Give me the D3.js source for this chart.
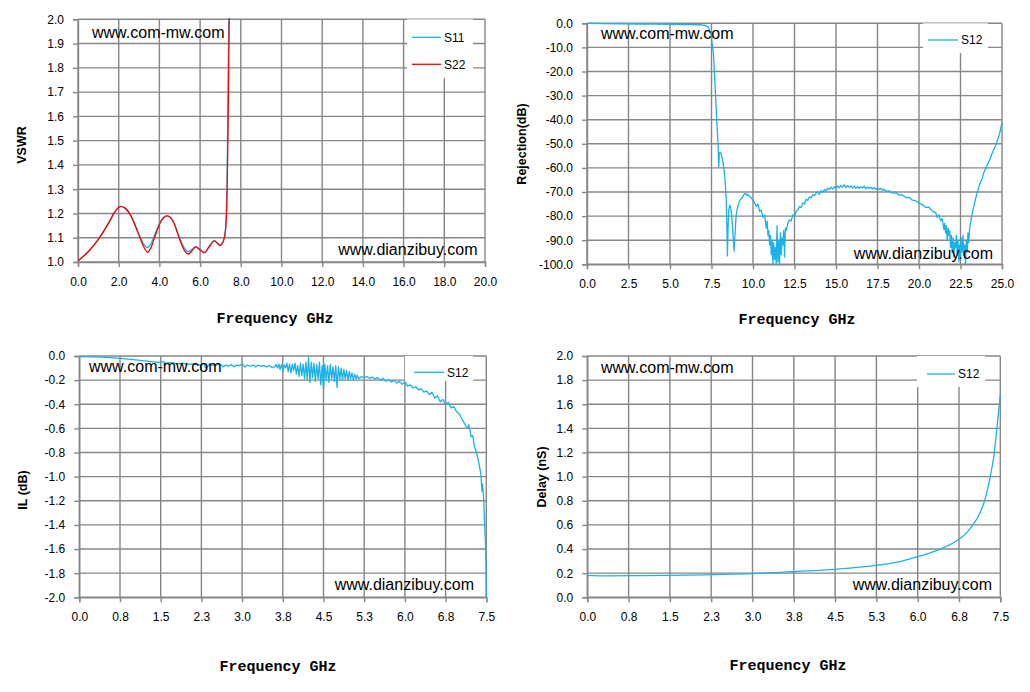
<!DOCTYPE html>
<html><head><meta charset="utf-8">
<script src="https://cdn.jsdelivr.net/npm/d3@7"></script>
<style>
body{margin:0;background:#fff}
svg{display:block}
</style></head><body>
<svg id="c" width="1030" height="692"></svg>
<script>
// ---------------- DATA ----------------
// Panel 1: VSWR
const vswrXTicks = [0,2,4,6,8,10,12,14,16,18,20];
const vswrXLabels = ["0.0","2.0","4.0","6.0","8.0","10.0","12.0","14.0","16.0","18.0","20.0"];
const vswrYTicks = [1.0,1.1,1.2,1.3,1.4,1.5,1.6,1.7,1.8,1.9,2.0];
const vswrYLabels = ["1.0","1.1","1.2","1.3","1.4","1.5","1.6","1.7","1.8","1.9","2.0"];
const s11Freq = [0,0.5,1.0,1.5,1.8,2.1,2.3,2.6,2.95,3.2,3.42,3.6,3.8,4.1,4.39,4.7,5.0,5.25,5.42,5.6,5.78,6.0,6.21,6.45,6.7,6.98,7.15,7.25,7.32,7.36,7.41,7.45];
const s11Vswr = [1.005,1.042,1.093,1.16,1.205,1.228,1.222,1.19,1.125,1.078,1.06,1.078,1.12,1.173,1.19,1.165,1.098,1.055,1.042,1.052,1.063,1.052,1.04,1.065,1.088,1.07,1.09,1.14,1.3,1.6,2.0,2.4];
const s22Freq = [0,0.5,1.0,1.5,1.8,2.1,2.3,2.6,2.95,3.2,3.42,3.6,3.8,4.1,4.39,4.7,5.0,5.25,5.42,5.6,5.78,6.0,6.21,6.45,6.7,6.98,7.15,7.25,7.33,7.38,7.43,7.47];
const s22Vswr = [1.005,1.042,1.093,1.16,1.205,1.229,1.223,1.19,1.12,1.068,1.04,1.062,1.11,1.17,1.19,1.163,1.092,1.045,1.033,1.046,1.062,1.05,1.038,1.063,1.087,1.068,1.088,1.13,1.3,1.6,2.0,2.4];

// Panel 2: Rejection
const rejXTicks = [0,2.5,5,7.5,10,12.5,15,17.5,20,22.5,25];
const rejXLabels = ["0.0","2.5","5.0","7.5","10.0","12.5","15.0","17.5","20.0","22.5","25.0"];
const rejYTicks = [0,-10,-20,-30,-40,-50,-60,-70,-80,-90,-100];
const rejYLabels = ["0.0","-10.0","-20.0","-30.0","-40.0","-50.0","-60.0","-70.0","-80.0","-90.0","-100.0"];
const rejFreq = [0,1,2,3,4,5,6,6.8,7.1,7.3,7.45,7.55,7.62,7.7,7.8,7.9,7.94,7.97,8.03,8.1,8.2,8.3,8.38,8.43,8.46,8.5,8.55,8.6,8.66,8.72,8.78,8.86,8.92,8.98,9.05,9.15,9.25,9.35,9.45,9.55,9.62,9.7,9.8,9.9,10.0,10.1,10.2,10.3,10.4,10.5,10.6,10.7,10.8,10.85,10.9,10.95,11.0,11.05,11.1,11.15,11.2,11.25,11.3,11.35,11.4,11.45,11.5,11.55,11.6,11.65,11.7,11.75,11.8,11.85,11.9,11.95,12.0,12.1,12.2,12.3,12.4,12.5,12.6,12.7,12.8,12.9,13.0,13.1,13.2,13.3,13.4,13.5,13.6,13.7,13.8,13.9,14.0,14.1,14.2,14.3,14.4,14.5,14.6,14.7,14.8,14.9,15.0,15.1,15.2,15.3,15.4,15.5,15.6,15.7,15.8,15.9,16.0,16.1,16.2,16.3,16.4,16.5,16.6,16.7,16.8,16.9,17.0,17.1,17.2,17.3,17.4,17.5,17.6,17.7,17.8,17.9,18.0,18.2,18.4,18.6,18.8,19.0,19.2,19.4,19.6,19.8,20.0,20.2,20.4,20.6,20.8,21.0,21.1,21.2,21.3,21.4,21.5,21.55,21.6,21.65,21.7,21.75,21.8,21.85,21.9,21.95,22.0,22.05,22.1,22.15,22.2,22.25,22.3,22.35,22.4,22.45,22.5,22.55,22.6,22.65,22.7,22.75,22.8,22.85,22.9,22.95,23.0,23.05,23.1,23.2,23.3,23.4,23.5,23.6,23.7,23.8,23.9,24.0,24.1,24.2,24.3,24.4,24.5,24.6,24.7,24.8,24.9,25.0];
const rejDb = [0,-0.1,-0.2,-0.3,-0.3,-0.4,-0.5,-0.6,-0.9,-1.5,-4,-9,-13,-24,-38,-51,-59.5,-54,-53.5,-54.5,-58,-63.5,-72,-85,-96.5,-84,-77,-75.5,-76.5,-80,-86,-94.5,-87,-80,-77,-74.5,-73,-72.5,-71,-70.5,-71.5,-71,-72,-72.5,-73.5,-74.5,-76,-75,-78,-77.5,-80.5,-79.5,-85,-82,-88,-86,-92,-88,-96,-90,-100,-91,-98,-93,-100,-84,-99,-90,-100,-87,-96,-89,-92,-86,-97,-85,-86,-83,-81.5,-82,-79.5,-80,-78,-77.5,-76,-76.5,-74.5,-75,-73,-73.5,-72,-72.5,-71,-71.5,-70.5,-70,-71,-69.5,-70,-69,-69.5,-68.5,-69,-68,-68.8,-67.8,-68.5,-67.5,-68.3,-67.2,-68,-67,-68.2,-67.3,-68,-67.5,-68.4,-67.6,-68.5,-67.7,-68.6,-67.8,-68.3,-67.6,-68.7,-67.9,-68.5,-68,-68.8,-68.1,-68.9,-68.3,-69,-68.5,-69.3,-68.8,-69.6,-69.5,-70.5,-70.3,-71.3,-71.2,-72.3,-72.2,-73.4,-73.6,-74.6,-75.2,-76.4,-76.3,-78,-78.5,-80.5,-79.5,-82,-81,-85.5,-83,-87,-84,-90,-85,-88,-86,-93,-88,-95,-89,-97,-91,-93,-88,-96,-90,-99,-92,-97,-89,-95,-88,-96,-92,-100,-90,-95,-87,-91,-85,-83,-79,-76,-73,-70.5,-68,-66,-64.5,-62,-60.5,-59,-57.5,-56,-54,-52.5,-51,-49,-47,-44.5,-41];

// Panel 3: Insertion loss  [frequency GHz, IL dB]
const ilXTicks = [0,0.75,1.5,2.25,3,3.75,4.5,5.25,6,6.75,7.5];
const ilXLabels = ["0.0","0.8","1.5","2.3","3.0","3.8","4.5","5.3","6.0","6.8","7.5"];
const ilYTicks = [0,-0.2,-0.4,-0.6,-0.8,-1.0,-1.2,-1.4,-1.6,-1.8,-2.0];
const ilYLabels = ["0.0","-0.2","-0.4","-0.6","-0.8","-1.0","-1.2","-1.4","-1.6","-1.8","-2.0"];
const ilData = [
 [0,-0.005],[0.25,-0.008],[0.5,-0.012],[0.75,-0.02],[1.0,-0.03],[1.25,-0.042],[1.5,-0.055],[1.55,-0.045],[1.6,-0.06],[1.7,-0.055],
 [1.8,-0.065],[1.9,-0.06],[2.0,-0.07],[2.1,-0.065],[2.2,-0.075],[2.3,-0.065],[2.33,-0.1],[2.4,-0.07],[2.5,-0.08],[2.55,-0.07],
 [2.6,-0.07],[2.65,-0.09],[2.7,-0.075],[2.75,-0.085],[2.8,-0.07],[2.85,-0.09],[2.9,-0.075],[2.95,-0.08],[3.0,-0.065],[3.05,-0.09],
 [3.1,-0.075],[3.15,-0.085],[3.2,-0.075],[3.25,-0.09],[3.3,-0.075],[3.35,-0.085],[3.4,-0.08],[3.45,-0.09],[3.5,-0.08],[3.55,-0.095],
 [3.6,-0.09],[3.625,-0.07],[3.65,-0.1],[3.675,-0.065],[3.7,-0.11],[3.725,-0.07],[3.75,-0.12],[3.775,-0.075],[3.8,-0.1],[3.825,-0.06],
 [3.85,-0.13],[3.875,-0.065],[3.9,-0.14],[3.925,-0.07],[3.95,-0.12],[3.975,-0.06],[4.0,-0.15],[4.025,-0.08],[4.05,-0.17],[4.075,-0.06],
 [4.1,-0.16],[4.125,-0.07],[4.15,-0.19],[4.175,-0.05],[4.2,-0.2],[4.225,-0.01],[4.25,-0.22],[4.275,-0.05],[4.3,-0.18],[4.325,-0.06],
 [4.35,-0.21],[4.375,-0.07],[4.4,-0.19],[4.425,-0.05],[4.45,-0.24],[4.475,-0.08],[4.5,-0.28],[4.525,-0.07],[4.55,-0.2],[4.575,-0.08],
 [4.6,-0.22],[4.625,-0.07],[4.65,-0.19],[4.675,-0.09],[4.7,-0.21],[4.725,-0.08],[4.75,-0.26],[4.775,-0.09],[4.8,-0.19],[4.825,-0.1],
 [4.85,-0.2],[4.875,-0.11],[4.9,-0.19],[4.925,-0.12],[4.95,-0.2],[4.975,-0.13],[5.0,-0.19],[5.025,-0.14],[5.05,-0.2],[5.075,-0.15],
 [5.1,-0.19],[5.125,-0.16],[5.15,-0.19],[5.2,-0.17],[5.25,-0.18],[5.3,-0.17],[5.35,-0.185],[5.4,-0.175],[5.45,-0.19],[5.5,-0.18],
 [5.55,-0.2],[5.6,-0.185],[5.65,-0.21],[5.7,-0.195],[5.75,-0.215],[5.8,-0.2],[5.85,-0.225],[5.9,-0.21],[5.95,-0.235],[6.0,-0.215],
 [6.05,-0.25],[6.1,-0.24],[6.15,-0.265],[6.2,-0.255],[6.25,-0.28],[6.3,-0.27],[6.35,-0.3],[6.4,-0.29],[6.45,-0.32],[6.5,-0.3],
 [6.55,-0.35],[6.6,-0.33],[6.65,-0.38],[6.7,-0.36],[6.75,-0.4],[6.8,-0.385],[6.85,-0.43],[6.9,-0.42],[6.95,-0.46],[7.0,-0.48],
 [7.05,-0.52],[7.1,-0.56],[7.15,-0.6],[7.18,-0.57],[7.22,-0.67],[7.25,-0.66],[7.28,-0.75],[7.32,-0.8],[7.36,-0.88],[7.4,-0.98],
 [7.42,-1.12],[7.43,-1.06],[7.45,-1.17],[7.47,-1.4],[7.49,-1.6],[7.5,-2.0]
];
const ilFreq = ilData.map(d => d[0]);
const ilDb = ilData.map(d => d[1]);

// Panel 4: Group delay
const dlXTicks = ilXTicks;
const dlXLabels = ilXLabels;
const dlYTicks = [0,0.2,0.4,0.6,0.8,1.0,1.2,1.4,1.6,1.8,2.0];
const dlYLabels = ["0.0","0.2","0.4","0.6","0.8","1.0","1.2","1.4","1.6","1.8","2.0"];
const dlFreq = [0,0.3,0.8,1.5,2.3,3.0,3.8,4.5,5.0,5.3,5.7,6.0,6.2,6.4,6.6,6.8,6.9,7.0,7.1,7.2,7.25,7.3,7.35,7.38,7.42,7.46,7.5];
const dlNs = [0.182,0.178,0.179,0.181,0.188,0.196,0.214,0.232,0.252,0.268,0.298,0.337,0.365,0.398,0.44,0.497,0.54,0.6,0.67,0.78,0.86,0.96,1.08,1.16,1.32,1.5,1.68];

// ---------------- DRAWING ----------------
const svg = d3.select("#c");
const GRID = "#868686";
const BLUE = "#1AB2E8";
const RED = "#FF0000";
const TICKFONT = "'Liberation Sans', Arial, sans-serif";

const panels = [
  {id:"p1", l:78, r:485, t:19.3, b:262, xd:[0,20], yd:[1,2], xt:vswrXTicks, xl:vswrXLabels, yt:vswrYTicks, yl:vswrYLabels,
   ytitle:"VSWR", ytx:22, yty:145, xtx:275, xty:323,
   series:[{f:s11Freq, v:s11Vswr, c:BLUE, n:"S11", curve:d3.curveMonotoneX},{f:s22Freq, v:s22Vswr, c:RED, n:"S22", curve:d3.curveMonotoneX}],
   leg:{x:407, y:19.3, w:66, h:58.7, lx1:412, lx2:441, tx:444, rows:[37.3,64.3]},
   wm1:{x:92,y:37.5}, wm2:{x:477.5,y:255}},
  {id:"p2", l:587, r:1002, t:23.3, b:264.3, xd:[0,25], yd:[-100,0], xt:rejXTicks, xl:rejXLabels, yt:rejYTicks, yl:rejYLabels,
   ytitle:"Rejection(dB)", ytx:522, yty:144, xtx:797, xty:324,
   series:[{f:rejFreq, v:rejDb, c:BLUE, n:"S12", curve:d3.curveLinear}],
   leg:{x:923, y:23.3, w:65, h:29.7, lx1:928, lx2:958, tx:961, rows:[40]},
   wm1:{x:601,y:39}, wm2:{x:993,y:259}},
  {id:"p3", l:79.3, r:486.3, t:356, b:597.3, xd:[0,7.5], yd:[-2,0], xt:ilXTicks, xl:ilXLabels, yt:ilYTicks, yl:ilYLabels,
   ytitle:"IL (dB)", ytx:22.5, yty:490, xtx:278, xty:671,
   series:[{f:ilFreq, v:ilDb, c:BLUE, n:"S12", curve:d3.curveLinear}],
   leg:{x:405, y:356, w:68, h:25, lx1:414, lx2:444, tx:447, rows:[372.3]},
   wm1:{x:89,y:371.5}, wm2:{x:474,y:590}},
  {id:"p4", l:587.3, r:1000.3, t:356, b:597.3, xd:[0,7.5], yd:[0,2], xt:dlXTicks, xl:dlXLabels, yt:dlYTicks, yl:dlYLabels,
   ytitle:"Delay (nS)", ytx:542, yty:477, xtx:788, xty:670,
   series:[{f:dlFreq, v:dlNs, c:BLUE, n:"S12", curve:d3.curveMonotoneX}],
   leg:{x:917, y:356, w:68, h:31, lx1:927, lx2:955, tx:958, rows:[374]},
   wm1:{x:601,y:373}, wm2:{x:992,y:590}}
];

panels.forEach(p => {
  const x = d3.scaleLinear().domain(p.xd).range([p.l, p.r]);
  const y = d3.scaleLinear().domain(p.yd).range([p.b, p.t]);
  const g = svg.append("g");

  // grid
  g.append("g").selectAll("line").data(p.xt).join("line")
    .attr("x1", d => x(d)).attr("x2", d => x(d)).attr("y1", p.t).attr("y2", p.b)
    .attr("stroke", GRID).attr("stroke-width", 1.4);
  g.append("g").selectAll("line").data(p.yt).join("line")
    .attr("x1", p.l).attr("x2", p.r).attr("y1", d => y(d)).attr("y2", d => y(d))
    .attr("stroke", GRID).attr("stroke-width", 1.4);

  // axes
  const xa = g.append("g").attr("transform", `translate(0,${p.b})`)
    .call(d3.axisBottom(x).tickValues(p.xt).tickFormat((d,i) => p.xl[i]).tickSize(5).tickPadding(10));
  const ya = g.append("g").attr("transform", `translate(${p.l},0)`)
    .call(d3.axisLeft(y).tickValues(p.yt).tickFormat((d,i) => p.yl[i]).tickSize(5).tickPadding(9));
  [xa, ya].forEach(a => {
    a.select(".domain").attr("stroke", GRID).attr("stroke-width", 1.4);
    a.selectAll(".tick line").attr("stroke", GRID).attr("stroke-width", 1.4);
    a.selectAll(".tick text").attr("fill", "#000").style("font-family", TICKFONT).style("font-size", "12px");
  });

  // clip
  const cid = "clip-" + p.id;
  svg.append("clipPath").attr("id", cid).append("rect")
    .attr("x", p.l).attr("y", p.t - 1).attr("width", p.r - p.l + 1).attr("height", p.b - p.t + 2);

  // curves
  p.series.forEach(s => {
    const pts = s.f.map((f, i) => [f, s.v[i]]);
    const line = d3.line().x(d => x(d[0])).y(d => y(d[1])).curve(s.curve);
    g.append("path").datum(pts).attr("d", line)
      .attr("fill", "none").attr("stroke", s.c).attr("stroke-width", 1.3)
      .attr("stroke-linejoin", "round").attr("clip-path", `url(#${cid})`);
  });

  // legend
  const L = p.leg;
  g.append("rect").attr("x", L.x).attr("y", L.y).attr("width", L.w).attr("height", L.h).attr("fill", "#fff");
  p.series.forEach((s, i) => {
    g.append("line").attr("x1", L.lx1).attr("x2", L.lx2).attr("y1", L.rows[i]).attr("y2", L.rows[i])
      .attr("stroke", s.c).attr("stroke-width", 1.3);
    g.append("text").attr("x", L.tx).attr("y", L.rows[i] + 4.3).text(s.n)
      .style("font-family", TICKFONT).style("font-size", "12px").attr("fill", "#000");
  });

  // watermarks
  g.append("text").attr("x", p.wm1.x).attr("y", p.wm1.y).text("www.com-mw.com")
    .style("font-family", TICKFONT).style("font-size", "16px").attr("fill", "#000");
  g.append("text").attr("x", p.wm2.x).attr("y", p.wm2.y).attr("text-anchor", "end").text("www.dianzibuy.com")
    .style("font-family", TICKFONT).style("font-size", "16px").attr("fill", "#000");

  // titles
  g.append("text").attr("transform", `translate(${p.ytx},${p.yty}) rotate(-90)`)
    .attr("text-anchor", "middle").attr("dy", "0.35em").text(p.ytitle)
    .style("font-family", TICKFONT).style("font-weight", "bold").style("font-size", "12.5px");
  g.append("text").attr("x", p.xtx).attr("y", p.xty).attr("text-anchor", "middle").text("Frequency GHz")
    .style("font-family", "'Liberation Mono', 'DejaVu Sans Mono', monospace").style("font-weight", "bold").style("font-size", "15px");
});
</script>
</body></html>
